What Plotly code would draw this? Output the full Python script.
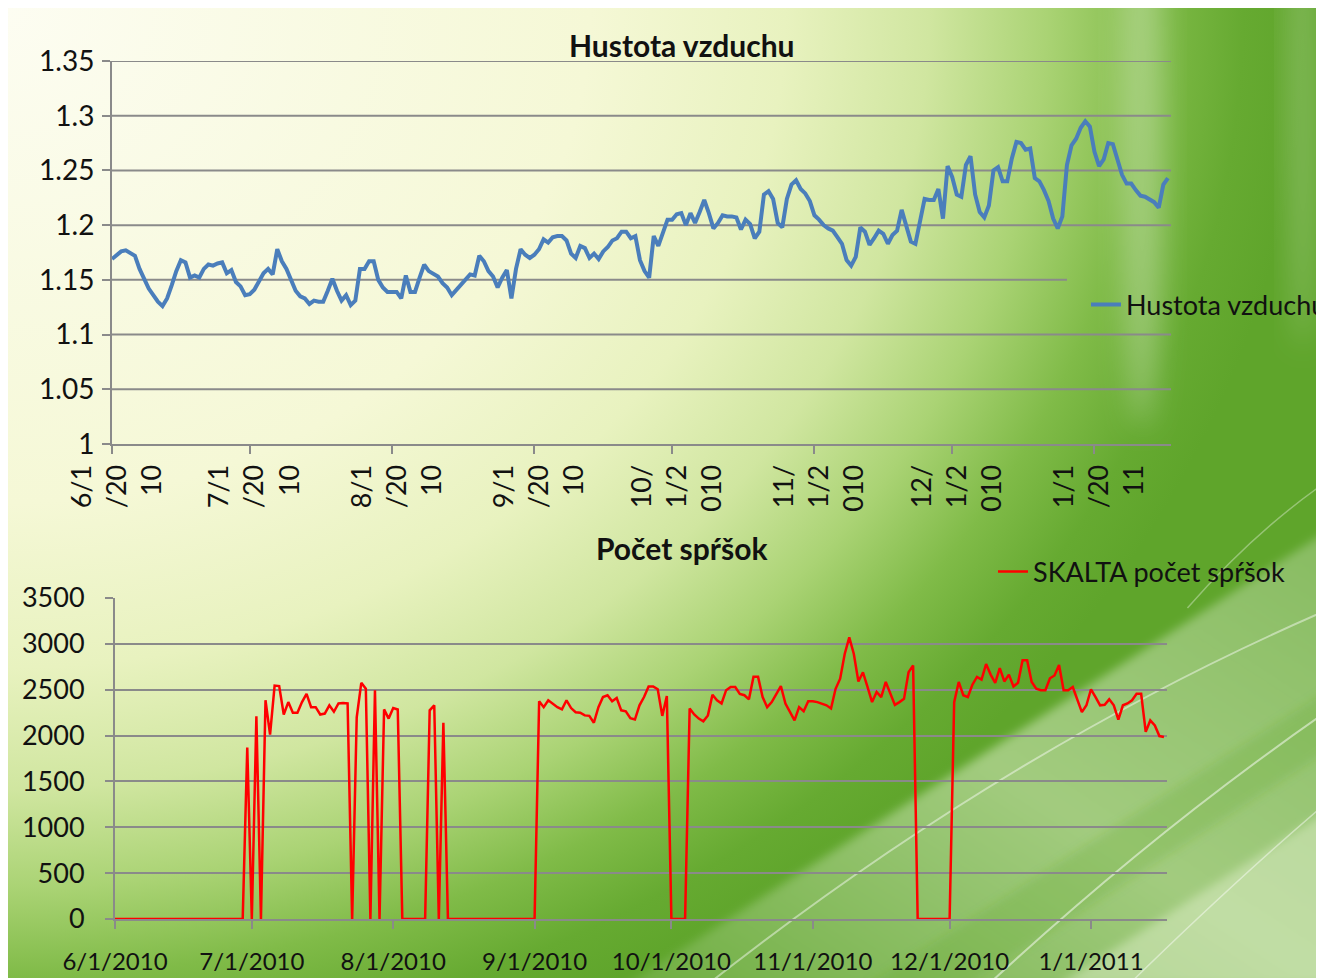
import base64
import pandas as pd
import plotly.graph_objects as go

# ---------------- data ----------------
start_date = "2010-06-01"
density = [
    1.169, 1.172, 1.176, 1.177, 1.174, 1.172, 1.160, 1.150, 1.142, 1.136,
    1.130, 1.126, 1.133, 1.145, 1.158, 1.168, 1.166, 1.152, 1.154, 1.152,
    1.160, 1.164, 1.163, 1.165, 1.166, 1.156, 1.159, 1.148, 1.144, 1.136,
    1.137, 1.141, 1.148, 1.156, 1.160, 1.155, 1.178, 1.167, 1.160, 1.150,
    1.140, 1.135, 1.133, 1.128, 1.131, 1.130, 1.130, 1.140, 1.151, 1.140,
    1.131, 1.136, 1.127, 1.131, 1.160, 1.160, 1.167, 1.167, 1.150, 1.143,
    1.139, 1.139, 1.139, 1.133, 1.154, 1.139, 1.139, 1.152, 1.164, 1.158,
    1.155, 1.153, 1.147, 1.143, 1.136, 1.141, 1.146, 1.150, 1.155, 1.154,
    1.172, 1.167, 1.158, 1.153, 1.143, 1.152, 1.159, 1.133, 1.160, 1.178,
    1.173, 1.170, 1.173, 1.178, 1.187, 1.184, 1.189, 1.190, 1.190, 1.186,
    1.174, 1.170, 1.181, 1.179, 1.170, 1.174, 1.169, 1.176, 1.180, 1.186,
    1.188, 1.194, 1.194, 1.188, 1.190, 1.168, 1.158, 1.152, 1.190, 1.181,
    1.192, 1.205, 1.205, 1.210, 1.211, 1.200, 1.211, 1.202, 1.212, 1.223,
    1.211, 1.197, 1.202, 1.209, 1.208, 1.208, 1.207, 1.196, 1.205, 1.201,
    1.188, 1.194, 1.228, 1.231, 1.224, 1.202, 1.198, 1.224, 1.237, 1.241,
    1.233, 1.229, 1.222, 1.209, 1.205, 1.200, 1.197, 1.195, 1.189, 1.183,
    1.168, 1.163, 1.171, 1.198, 1.194, 1.182, 1.188, 1.195, 1.192, 1.183,
    1.191, 1.195, 1.214, 1.200, 1.185, 1.183, 1.206, 1.224, 1.223, 1.223,
    1.233, 1.206, 1.254, 1.244, 1.228, 1.226, 1.255, 1.263, 1.228, 1.212,
    1.207, 1.218, 1.250, 1.253, 1.240, 1.240, 1.261, 1.276, 1.275, 1.269,
    1.270, 1.243, 1.240, 1.232, 1.222, 1.206, 1.197, 1.208, 1.255, 1.273,
    1.279, 1.289, 1.295, 1.290, 1.267, 1.254, 1.260, 1.275, 1.274, 1.261,
    1.246, 1.238, 1.238, 1.232, 1.227, 1.226, 1.224, 1.221, 1.216, 1.237,
    1.243,
]
showers = [
    0, 0, 0, 0, 0, 0, 0, 0, 0, 0,
    0, 0, 0, 0, 0, 0, 0, 0, 0, 0,
    0, 0, 0, 0, 0, 0, 0, 0, 0, 1870,
    0, 2210, 0, 2385, 2010, 2545, 2540, 2230, 2365, 2250,
    2250, 2365, 2455, 2310, 2310, 2230, 2240, 2330, 2260, 2350,
    2355, 2350, 0, 2200, 2575, 2510, 0, 2495, 0, 2285,
    2185, 2300, 2285, 0, 0, 0, 0, 0, 0, 2275,
    2330, 0, 2140, 0, 0, 0, 0, 0, 0, 0,
    0, 0, 0, 0, 0, 0, 0, 0, 0, 0,
    0, 0, 0, 2375, 2310, 2385, 2350, 2310, 2285, 2385,
    2300, 2255, 2250, 2220, 2215, 2140, 2310, 2420, 2440, 2375,
    2410, 2275, 2265, 2190, 2175, 2330, 2420, 2535, 2535, 2505,
    2215, 2430, 0, 0, 0, 0, 2295, 2230, 2185, 2155,
    2220, 2445, 2385, 2350, 2495, 2530, 2530, 2455, 2440, 2395,
    2640, 2640, 2420, 2310, 2365, 2455, 2540, 2350, 2250, 2165,
    2310, 2265, 2375, 2375, 2365, 2350, 2330, 2295, 2510, 2620,
    2890, 3070, 2890, 2590, 2690, 2530, 2365, 2475, 2420, 2585,
    2455, 2335, 2365, 2400, 2690, 2765, 0, 0, 0, 0,
    0, 0, 0, 0, 2365, 2585, 2440, 2420, 2555, 2640,
    2610, 2780, 2665, 2575, 2735, 2590, 2665, 2535, 2575, 2820,
    2820, 2585, 2510, 2495, 2495, 2625, 2655, 2770, 2495, 2495,
    2530, 2395, 2255, 2330, 2505, 2420, 2330, 2335, 2395, 2330,
    2175, 2330, 2350, 2385, 2455, 2455, 2040, 2165, 2110, 1995,
    1985,
]
month_ticks = ["2010-06-01", "2010-07-01", "2010-08-01", "2010-09-01",
               "2010-10-01", "2010-11-01", "2010-12-01", "2011-01-01"]
top_month_labels = ["6/1<br>/20<br>10", "7/1<br>/20<br>10", "8/1<br>/20<br>10",
                    "9/1<br>/20<br>10", "10/<br>1/2<br>010", "11/<br>1/2<br>010",
                    "12/<br>1/2<br>010", "1/1<br>/20<br>11"]
bottom_month_labels = ["6/1/2010", "7/1/2010", "8/1/2010", "9/1/2010",
                       "10/1/2010", "11/1/2010", "12/1/2010", "1/1/2011"]
density_ticks = [1, 1.05, 1.1, 1.15, 1.2, 1.25, 1.3, 1.35]
density_labels = ["1", "1.05", "1.1", "1.15", "1.2", "1.25", "1.3", "1.35"]
shower_ticks = [0, 500, 1000, 1500, 2000, 2500, 3000, 3500]
shower_labels = ["0", "500", "1000", "1500", "2000", "2500", "3000", "3500"]

dates = pd.date_range(start_date, periods=len(density), freq="D")

# ---------------- geometry helpers ----------------
W, H = 1324, 978
OFF = 8  # the page shows the figure shifted by the body margin


def px(v):
    return (v - OFF) / W


def py(v):
    return 1 - (v - OFF) / H


# ---------------- background ----------------
svg = f"""<svg xmlns='http://www.w3.org/2000/svg' width='{W}' height='{H}' viewBox='0 0 {W} {H}'>
<defs>
<radialGradient id='g' gradientUnits='userSpaceOnUse' cx='0' cy='0' r='1000'
  gradientTransform='scale(1.3,1.1)'>
<stop offset='0' stop-color='#fdfdf2'/>
<stop offset='0.45' stop-color='#f5f8d6'/>
<stop offset='0.6' stop-color='#e8f2bf'/>
<stop offset='0.71' stop-color='#d0e6a0'/>
<stop offset='0.8' stop-color='#aad374'/>
<stop offset='0.88' stop-color='#80bb48'/>
<stop offset='0.95' stop-color='#66aa31'/>
<stop offset='1' stop-color='#5fa52b'/>
</radialGradient>
<linearGradient id='s' x1='0' y1='1' x2='1' y2='0'>
<stop offset='0' stop-color='#ffffff' stop-opacity='0.1'/>
<stop offset='0.5' stop-color='#f4fbe4' stop-opacity='0.45'/>
<stop offset='1' stop-color='#ffffff' stop-opacity='0.25'/>
</linearGradient>
<filter id='b' x='-50%' y='-50%' width='200%' height='200%'>
<feGaussianBlur stdDeviation='14'/>
</filter>
<filter id='b2' x='-50%' y='-50%' width='200%' height='200%'>
<feGaussianBlur stdDeviation='5'/>
</filter>
</defs>
<rect width='{W}' height='{H}' fill='url(#g)'/>
<ellipse cx='1135' cy='120' rx='22' ry='300' fill='#ffffff' fill-opacity='0.28' filter='url(#b)'/>
<ellipse cx='1295' cy='80' rx='14' ry='260' fill='#ffffff' fill-opacity='0.22' filter='url(#b)'/>
<path d='M620 978 L1324 520 L1324 978 Z' fill='url(#s)' filter='url(#b2)'/>
<path d='M860 978 L1324 680 L1324 740 L960 978 Z' fill='#5fa52a' fill-opacity='0.22' filter='url(#b2)'/>
<path d='M1050 978 L1324 800 L1324 978 Z' fill='#eef7dc' fill-opacity='0.4' filter='url(#b2)'/>
<path d='M700 978 Q1000 740 1324 600' stroke='#ffffff' stroke-opacity='0.45' stroke-width='2' fill='none'/>
<path d='M980 978 Q1150 820 1324 700' stroke='#ffffff' stroke-opacity='0.5' stroke-width='2' fill='none'/>
<path d='M1120 978 Q1230 870 1324 790' stroke='#ffffff' stroke-opacity='0.45' stroke-width='1.5' fill='none'/>
<path d='M1180 600 Q1250 520 1324 470' stroke='#ffffff' stroke-opacity='0.35' stroke-width='1.5' fill='none'/>
</svg>"""
bg_uri = "data:image/svg+xml;base64," + base64.b64encode(svg.encode()).decode()

FONT = "Lato"
GRID = "#8a8a8a"
TXT = "#111111"

fig = go.Figure()
fig.add_trace(go.Scatter(
    x=dates, y=density, mode="lines", name="Hustota vzduchu",
    line=dict(color="#4a7ebb", width=4), xaxis="x", yaxis="y",
    legend="legend",
))
fig.add_trace(go.Scatter(
    x=dates, y=showers, mode="lines", name="SKALTA počet spŕšok",
    line=dict(color="#ff0000", width=2.5), xaxis="x2", yaxis="y2",
    legend="legend2",
))

x_end = "2011-01-17 16:00"

axis_common = dict(
    ticks="outside", ticklen=8, tickwidth=2, tickcolor=GRID,
    showline=True, linecolor=GRID, linewidth=2, zeroline=False,
    automargin=False,
)

fig.update_layout(
    width=W, height=H,
    margin=dict(l=0, r=0, t=0, b=0, autoexpand=False),
    paper_bgcolor="white",
    plot_bgcolor="rgba(0,0,0,0)",
    font=dict(family=FONT, size=26, color=TXT),
    showlegend=True,
    images=[dict(source=bg_uri, xref="paper", yref="paper",
                 x=px(3), y=py(8), sizex=(W - 3 + OFF) / W,
                 sizey=(H - 8 + OFF) / H,
                 xanchor="left", yanchor="top", sizing="stretch",
                 layer="below")],
    xaxis=dict(
        domain=[px(112), px(1171)], anchor="y", type="date",
        range=[start_date, x_end],
        tickvals=month_ticks, ticktext=top_month_labels, tickangle=-90,
        showgrid=False, ticklabelstandoff=0, ticklabelshift=5,
        tickfont=dict(size=27, color=TXT), **axis_common,
    ),
    yaxis=dict(
        domain=[py(444), py(61)], anchor="x",
        range=[1, 1.35], tickvals=density_ticks, ticktext=density_labels,
        showgrid=False, ticklabelstandoff=2,
        tickfont=dict(size=28, color=TXT), **axis_common,
    ),
    xaxis2=dict(
        domain=[px(115), px(1167)], anchor="y2", type="date",
        range=[start_date, x_end],
        tickvals=month_ticks, ticktext=bottom_month_labels, tickangle=0,
        showgrid=False, ticklabelstandoff=12,
        tickfont=dict(size=24, color=TXT), **axis_common,
    ),
    yaxis2=dict(
        domain=[py(919), py(598)], anchor="x2",
        range=[0, 3500], tickvals=shower_ticks, ticktext=shower_labels,
        showgrid=True, gridcolor=GRID, gridwidth=2,
        ticklabelstandoff=15,
        tickfont=dict(size=27, color=TXT), **axis_common,
    ),
    legend=dict(
        x=px(1086), y=py(305), xanchor="left", yanchor="middle",
        bgcolor="rgba(0,0,0,0)", borderwidth=0,
        font=dict(size=27, color=TXT),
    ),
    legend2=dict(
        x=px(993), y=py(572), xanchor="left", yanchor="middle",
        bgcolor="rgba(0,0,0,0)", borderwidth=0,
        font=dict(size=27, color=TXT),
    ),
    annotations=[
        dict(text="<b>Hustota vzduchu</b>", xref="paper", yref="paper",
             x=px(682), y=py(45), xanchor="center", yanchor="middle",
             showarrow=False, font=dict(size=30, color=TXT)),
        dict(text="<b>Počet spŕšok</b>", xref="paper", yref="paper",
             x=px(682), y=py(548), xanchor="center", yanchor="middle",
             showarrow=False, font=dict(size=30, color=TXT)),
    ],
)

# gridlines of the upper chart (the 1.15 line is cut short by the legend box)
shapes = []
for v in density_ticks[1:]:
    x1 = (1067 - 112) / (1171 - 112) if v == 1.15 else 1
    shapes.append(dict(type="line", xref="x domain", yref="y",
                       x0=0, x1=x1, y0=v, y1=v,
                       line=dict(color=GRID, width=2), layer="below"))
fig.update_layout(shapes=shapes)

fig.write_html("out.html")
